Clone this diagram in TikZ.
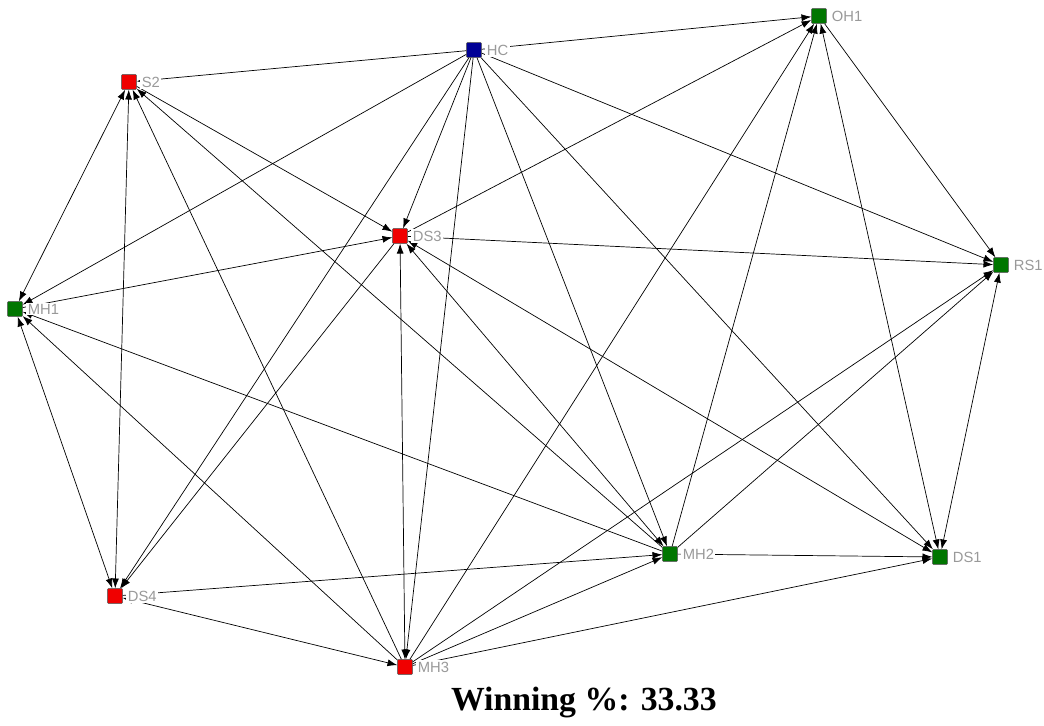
\documentclass[tikz,border=0pt]{standalone}
\usepackage{fontspec}
\setmainfont{Liberation Serif}
\setsansfont{Liberation Sans}
\usetikzlibrary{arrows.meta,backgrounds}

\definecolor{winblue}{RGB}{0,0,150}
\definecolor{wingreen}{RGB}{0,118,0}
\definecolor{losered}{RGB}{240,0,0}

\begin{document}
\begin{tikzpicture}[x=0.025cm,y=-0.025cm,
		actor/.style={draw=black!75,rectangle,minimum size=0.37cm,inner sep=0pt,rounded corners=0.6pt},
		lbl/.style={text=black!40,fill=white,font=\sffamily\fontsize{10.5}{12}\selectfont,inner sep=1pt,label distance=2.5pt},
		tie/.style={line width=0.5pt,-{Latex[length=7pt,width=5pt]}},
		mutual/.style={line width=0.5pt,{Latex[length=7pt,width=5pt]}-{Latex[length=7pt,width=5pt]}}]
		\useasboundingbox (0,0) rectangle (1044,725);
		% actors
		\node[actor,fill=winblue,label={[lbl]right:HC}] (hc) at (474,50) {};
		\node[actor,fill=wingreen,label={[lbl]right:OH1}] (oh1) at (819,16) {};
		\node[actor,fill=losered,label={[lbl]right:S2}] (s2) at (129,82) {};
		\node[actor,fill=losered,label={[lbl]right:DS3}] (ds3) at (400,236) {};
		\node[actor,fill=wingreen,label={[lbl]right:RS1}] (rs1) at (1001,265) {};
		\node[actor,fill=wingreen,label={[lbl]right:MH1}] (mh1) at (15,309) {};
		\node[actor,fill=wingreen,label={[lbl]right:MH2}] (mh2) at (670,554) {};
		\node[actor,fill=wingreen,label={[lbl]right:DS1}] (ds1) at (940,557) {};
		\node[actor,fill=losered,label={[lbl]right:DS4}] (ds4) at (115,596) {};
		\node[actor,fill=losered,label={[lbl]right:MH3}] (mh3) at (405,667) {};
		\begin{pgfonlayer}{background}
			% one-way ties
			\foreach \a/\b in {hc/oh1,hc/s2,hc/mh1,hc/ds4,hc/ds3,hc/mh3,hc/mh2,hc/ds1,hc/rs1,
					ds3/oh1,mh3/oh1,mh2/oh1,oh1/rs1,mh3/s2,mh2/s2,s2/ds3,mh1/ds3,mh2/mh1,
					mh3/mh1,ds4/mh2,ds3/ds4,ds3/rs1,mh3/mh2,mh3/rs1,mh3/ds1,mh2/ds1,mh2/rs1}
				\draw[tie] (\a) -- (\b);
			% mutual ties
			\foreach \a/\b in {oh1/ds1,s2/mh1,s2/ds4,mh1/ds4,ds4/mh3,ds3/mh3,mh2/ds3,ds3/ds1,rs1/ds1}
				\draw[mutual] (\a) -- (\b);
		\end{pgfonlayer}
		\node[font=\bfseries\fontsize{24}{28}\selectfont,anchor=base east,inner sep=0pt] (score) at (717,710) {Winning \%: 33.33};
	\end{tikzpicture}
\end{document}
